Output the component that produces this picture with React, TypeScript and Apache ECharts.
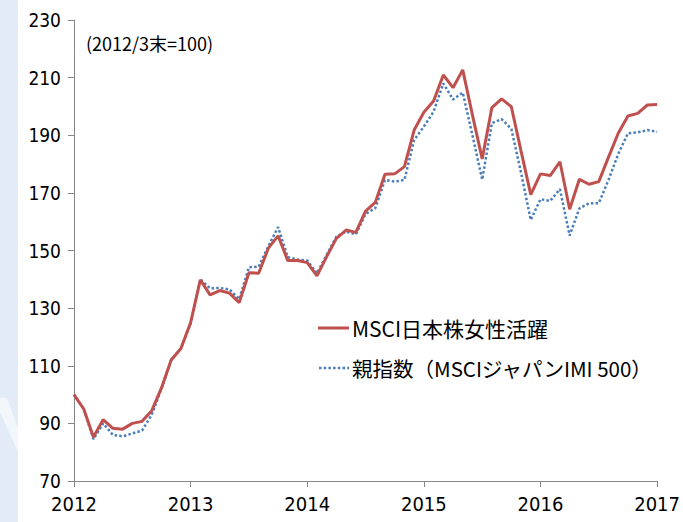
import React, { useEffect, useRef } from "react";
import * as echarts from "echarts";

const startYear = 2012;
const startMonth = 3;
const pointCount = 61;
const categories: string[] = [];
for (let i = 0; i < pointCount; i++) {
  const m = startMonth - 1 + i;
  const y = startYear + Math.floor(m / 12);
  categories.push(`${y}/${(m % 12) + 1}`);
}

const yearLabels = ["2012", "2013", "2014", "2015", "2016", "2017"];

const seriesNames = ["MSCI日本株女性活躍", "親指数（MSCIジャパンIMI 500）"];

const womenIndex = [
  100, 95, 85.3, 91.3, 88.3, 88, 90, 90.7, 94.4, 102.3, 112, 116, 125,
  139.8, 134.6, 136.1, 135.2, 131.9, 142.3, 142.1, 150.8, 155.1, 146.5, 146.5, 145.8,
  141.2, 147.9, 154.2, 157.1, 156.3, 163.7, 166.7, 176.5, 176.6, 179.1, 191.8, 198,
  201.9, 210.9, 206.5, 212.7, 197, 181.8, 199.6, 202.6, 199.9, 184.5, 169.4, 176.6,
  176, 180.8, 164.3, 174.7, 173, 173.9, 182.4, 190.7, 196.7, 197.6, 200.5, 200.7,
];

const parentIndex = [
  100, 95, 84.5, 90, 86, 85.5, 86.5, 87.5, 93, 102, 112, 116, 124.5,
  140, 136.9, 137, 136.5, 133.1, 144.2, 144.4, 151.5, 158.1, 147.7, 146.9, 146.5,
  142.1, 148.5, 154.8, 156.6, 155.6, 162.7, 164.7, 174.5, 173.9, 174.5, 188.4, 193,
  198.2, 208, 202.4, 204.8, 190, 174.6, 194.2, 195.6, 192.2, 177, 160.6, 167.8,
  167.2, 171.3, 155.2, 164.6, 166.4, 166.4, 174.5, 183.5, 190.7, 191, 191.8, 191.2,
];

const noteText = "(2012/3末=100)";

const latinFont = "'Liberation Sans Narrow', 'DejaVu Sans Condensed', 'Noto Sans', sans-serif";
const cjkFont = "'Noto Sans CJK JP', 'Noto Sans', sans-serif";

const redColor = "#C0504D";
const blueColor = "#4A7EBB";
const blueDash = [2.5, 2.2];

export default function App() {
  const ref = useRef<HTMLDivElement>(null);
  useEffect(() => {
    document.body.style.margin = "0";
    const chart = echarts.init(ref.current!, null, { renderer: "svg" });
    const axisColor = "#868686";
    chart.setOption({
      animation: false,
      backgroundColor: "#ffffff",
      grid: { left: 74, right: 22, top: 20, bottom: 41, containLabel: false },
      graphic: [
        { type: "rect", z: -10, shape: { x: 0, y: 0, width: 18, height: 522 }, style: { fill: "#e3ecf6" } },
        { type: "polygon", z: -9, shape: { points: [[0, 398], [7, 398], [18, 428], [18, 452], [0, 412]] }, style: { fill: "#f3f7fb" } },
        {
          type: "text",
          left: 86,
          top: 34,
          style: { text: noteText, fontSize: 18, fill: "#000", fontFamily: cjkFont },
        },
        {
          type: "line",
          shape: { x1: 318, y1: 328, x2: 349, y2: 328 },
          style: { stroke: redColor, lineWidth: 3 },
        },
        {
          type: "text",
          x: 352,
          y: 328,
          style: { text: seriesNames[0], fontSize: 21, fill: "#000", fontFamily: cjkFont, verticalAlign: "middle", align: "left" },
        },
        {
          type: "line",
          shape: { x1: 319, y1: 368, x2: 349, y2: 368 },
          style: { stroke: blueColor, lineWidth: 2.5, lineDash: blueDash },
        },
        {
          type: "text",
          x: 352,
          y: 368,
          style: { text: seriesNames[1], fontSize: 20.5, fill: "#000", fontFamily: cjkFont, verticalAlign: "middle", align: "left" },
        },
      ],
      xAxis: {
        type: "category",
        boundaryGap: false,
        data: categories,
        axisLine: { lineStyle: { color: axisColor, width: 1 } },
        axisTick: { show: true, interval: 11, length: 6, lineStyle: { color: axisColor } },
        axisLabel: {
          interval: 11,
          margin: 13,
          fontSize: 20,
          color: "#000",
          fontFamily: latinFont,
          formatter: (_v: string, idx: number) => yearLabels[Math.round(idx / 12)] ?? "",
        },
        splitLine: { show: false },
      },
      yAxis: {
        type: "value",
        min: 70,
        max: 230,
        interval: 20,
        axisLine: { show: true, lineStyle: { color: axisColor, width: 1 } },
        axisTick: { show: true, length: 6, lineStyle: { color: axisColor } },
        axisLabel: { margin: 13, fontSize: 19, color: "#000", fontFamily: latinFont },
        splitLine: { show: false },
      },
      series: [
        {
          name: seriesNames[1],
          type: "line",
          data: parentIndex,
          symbol: "none",
          z: 2,
          lineStyle: { color: blueColor, width: 2.5, type: blueDash },
          itemStyle: { color: blueColor },
        },
        {
          name: seriesNames[0],
          type: "line",
          data: womenIndex,
          symbol: "none",
          z: 3,
          lineStyle: { color: redColor, width: 3 },
          itemStyle: { color: redColor },
        },
      ],
    });
    return () => chart.dispose();
  }, []);
  return (
    <div
      ref={ref}
      style={{ position: "absolute", left: 0, top: 0, width: 683, height: 522 }}
    />
  );
}
